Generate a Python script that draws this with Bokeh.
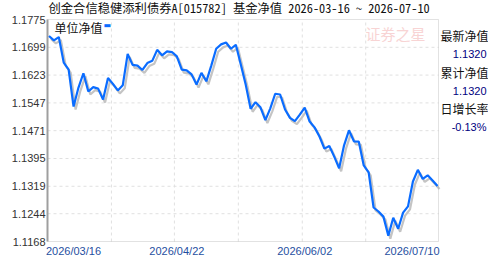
import pandas as pd
from bokeh.plotting import figure
from bokeh.models import Range1d, Label, ColumnDataSource, BoxAnnotation
from bokeh.embed import file_html
from bokeh.resources import INLINE

# ---------------- data ----------------
holidays = ["2026-04-06", "2026-05-01", "2026-05-04", "2026-05-05", "2026-06-19"]
dates = [d for d in pd.bdate_range("2026-03-16", "2026-07-10")
         if d.strftime("%Y-%m-%d") not in holidays]

nav = [1.1730, 1.1718, 1.1727, 1.1657, 1.1638, 1.1537, 1.1589, 1.1628, 1.1578, 1.1590,
       1.1586, 1.1556, 1.1615, 1.1599, 1.1581, 1.1595, 1.1681, 1.1651, 1.1649, 1.1637,
       1.1656, 1.1662, 1.1692, 1.1677, 1.1688, 1.1686, 1.1674, 1.1638, 1.1636, 1.1625,
       1.1597, 1.1629, 1.1606, 1.1649, 1.1695, 1.1707, 1.1712, 1.1695, 1.1706, 1.1652,
       1.1597, 1.1531, 1.1549, 1.1535, 1.1500, 1.1532, 1.1572, 1.1570, 1.1529, 1.1506,
       1.1497, 1.1515, 1.1534, 1.1496, 1.1480, 1.1455, 1.1422, 1.1429, 1.1400, 1.1368,
       1.1431, 1.1472, 1.1442, 1.1441, 1.1376, 1.1357, 1.1261, 1.1250, 1.1236, 1.1184,
       1.1233, 1.1203, 1.1247, 1.1264, 1.1332, 1.1364, 1.1339, 1.1349, 1.1335, 1.1320]

y_tick_labels = ["1.1168", "1.1244", "1.1319", "1.1395", "1.1471",
                 "1.1547", "1.1623", "1.1699", "1.1775"]
x_label_dates = ["2026/03/16", "2026/04/22", "2026/06/02", "2026/07/10"]

title_text = "创金合信稳健添利债券A[015782] 基金净值  2026-03-16 ~ 2026-07-10"
legend_text = "单位净值"
side_labels = ["最新净值", "累计净值", "日增长率"]
side_values = ["1.1320", "1.1320", "-0.13%"]

# ---------------- layout constants (pixels) ----------------
W, H = 488, 255
BOX_L, BOX_R, BOX_T, BOX_B = 47, 438, 19, 241
n = len(nav)
date_str = [d.strftime("%Y/%m/%d") for d in dates]

ymin, ymax = float(y_tick_labels[0]), float(y_tick_labels[-1])
xs, xe = -0.3, (n - 1) + 0.2
ux = (xe - xs) / (BOX_R - BOX_L)      # data units per px (x)
uy = (ymax - ymin) / (BOX_B - BOX_T)  # data units per px (y)

p = figure(width=W, height=H, output_backend="svg", toolbar_location=None,
           x_range=Range1d(xs - BOX_L * ux, xe + (W - BOX_R) * ux),
           y_range=Range1d(ymin - (H - BOX_B) * uy, ymax + BOX_T * uy),
           min_border=0, background_fill_color="white", border_fill_color="white")
p.axis.visible = False
p.grid.visible = False
p.outline_line_color = None

p.extra_x_ranges = {"sh": Range1d(p.x_range.start - 2 * ux, p.x_range.end - 2 * ux)}
p.extra_y_ranges = {"sh": Range1d(p.y_range.start + 3 * uy, p.y_range.end + 3 * uy)}

# grid (dashed)
yt = [float(t) for t in y_tick_labels]
p.segment(x0=[xs] * (len(yt) - 2), y0=yt[1:-1], x1=[xe] * (len(yt) - 2), y1=yt[1:-1],
          line_color="#e0e0e0", line_dash="3 3", line_width=1)
xg = [12.7, 25.5, 38.5, 51.5, 64.4]
p.segment(x0=xg, y0=[ymin] * len(xg), x1=xg, y1=[ymax] * len(xg),
          line_color="#e0e0e0", line_dash="3 3", line_width=1)

# box
p.add_layout(BoxAnnotation(left=xs, right=xe, bottom=ymin, top=ymax,
                           fill_alpha=0, line_color="#a0a0a0", line_width=1))
p.segment(x0=[xs], y0=[ymin], x1=[xs], y1=[ymax], line_color="#a0a0a0", line_width=2)

# shadow + main line
src = ColumnDataSource(dict(x=list(range(n)), y=nav, d=date_str))
p.line("x", "y", source=src, x_range_name="sh", y_range_name="sh",
       line_color="#c4c4c4", line_width=2.2)
p.line("x", "y", source=src, line_color="#0a6cff", line_width=2.2)

# watermark
p.add_layout(Label(x=xe, y=ymax, x_offset=-73, y_offset=-24, text="证券之星",
                   text_font="Noto Sans CJK SC", text_font_size="15px",
                   text_color="#f8d4d4", text_baseline="bottom"))

# y tick labels
for t in y_tick_labels:
    p.add_layout(Label(x=xs, y=float(t), x_offset=-2, text=t,
                       text_font="Liberation Sans", text_font_size="11px",
                       text_color="#333333", text_baseline="middle",
                       text_align="right"))

# title
p.add_layout(Label(x=xs, y=ymax, x_offset=1, y_offset=12, text=title_text,
                   text_font="Noto Sans Mono CJK SC, Noto Sans CJK SC",
                   text_font_size="12.3px", text_color="#111111",
                   text_baseline="middle", text_align="left"))

# legend
p.add_layout(Label(x=xs, y=ymax, x_offset=7, y_offset=-8, text=legend_text,
                   text_font="Noto Sans CJK SC", text_font_size="12px",
                   text_color="#111111", text_baseline="middle"))
p.add_layout(Label(x=xs, y=ymax, x_offset=56, y_offset=-6, text="▬",
                   text_font="DejaVu Sans", text_font_size="8px",
                   text_color="#0a6cff", text_baseline="middle"))

# x date labels
pos = {d: i for i, d in enumerate(date_str)}
aligns = ["left", "center", "center", "right"]
for lab, al in zip(x_label_dates, aligns):
    xo = -3 if al == "left" else (2 if al == "right" else 0)
    p.add_layout(Label(x=pos[lab], y=ymin, x_offset=xo, y_offset=-3, text=lab,
                       text_font="Liberation Sans", text_font_size="11px",
                       text_color="#1f4f9f", text_baseline="top",
                       text_align=al))

# right side panel
offs = [-16, -53, -89]
for lab, val, o in zip(side_labels, side_values, offs):
    p.add_layout(Label(x=xe, y=ymax, x_offset=2, y_offset=o, text=lab,
                       text_font="Noto Sans CJK SC", text_font_size="12px",
                       text_color="#111111", text_baseline="middle"))
    p.add_layout(Label(x=xe, y=ymax, x_offset=48, y_offset=o - 18, text=val,
                       text_font="Liberation Sans", text_font_size="11px",
                       text_color="#000080", text_baseline="middle",
                       text_align="right"))

open("out.html", "w").write(file_html(p, INLINE))
